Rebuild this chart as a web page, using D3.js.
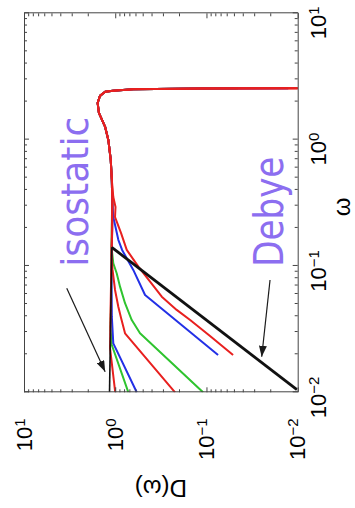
<!DOCTYPE html>
<html>
<head>
<meta charset="utf-8">
<script src="https://cdn.jsdelivr.net/npm/d3@7"></script>
<style>
  html, body { margin: 0; padding: 0; background: #fff; }
  svg { display: block; }
</style>
</head>
<body>
<svg id="chart" width="355" height="508"></svg>
<script>
// Vibrational density of states D(ω) on log-log axes.
// The whole figure is laid out as an ordinary plot and then turned a
// quarter turn counter-clockwise (ω runs upward, D runs leftward).

// ---- tick values ----
const omegaTicks = [1e-2, 1e-1, 1e0, 1e1];
const dosTicks = [1e-2, 1e-1, 1e0, 1e1];

// ---- high-frequency branch shared by every run (ω, D) ----
const plateauOmega = [0.480, 0.690, 0.995, 1.26, 1.63, 1.95, 2.22, 2.39, 2.44, 2.51, 2.535];
const plateauDos   = [1.09, 1.12, 1.19, 1.29, 1.51, 1.56, 1.47, 1.29, 1.06, 0.638, 0.117];
const cutoffOmega = 2.553;

// ---- low-frequency branches, one per run ----
const redAOmega = [0.01, 0.0224, 0.0373, 0.0775, 0.161, 0.333];
const redADos   = [1.00, 1.14, 1.13, 1.11, 1.09, 1.08];

const greenAOmega = [0.01, 0.0237, 0.0323, 0.0538, 0.134, 0.333];
const greenADos   = [0.718, 1.09, 1.13, 1.11, 1.10, 1.08];

const blueAOmega = [0.01, 0.0244, 0.0397, 0.093, 0.193, 0.333];
const blueADos   = [0.581, 1.05, 1.09, 1.10, 1.08, 1.08];

const redBOmega = [0.01, 0.0293, 0.0387, 0.0476, 0.0646, 0.093, 0.122, 0.193, 0.333];
const redBDos   = [0.221, 0.781, 0.863, 0.925, 1.005, 1.07, 1.10, 1.08, 1.07];

const greenBOmega = [0.01, 0.0293, 0.0373, 0.0507, 0.0686, 0.0875, 0.105, 0.134, 0.231, 0.333];
const greenBDos   = [0.109, 0.535, 0.659, 0.781, 0.886, 0.964, 1.05, 1.09, 1.08, 1.075];

const blueCOmega = [0.0197, 0.0589, 0.0930, 0.134, 0.161, 0.244, 0.333];
const blueCDos   = [0.0746, 0.471, 0.634, 0.841, 0.925, 1.05, 1.08];

const redCOmega = [0.0197, 0.0279, 0.0373, 0.0449, 0.0571, 0.0752, 0.0987, 0.134, 0.182, 0.244, 0.293, 0.351];
const redCDos   = [0.0511, 0.0914, 0.151, 0.212, 0.309, 0.415, 0.558, 0.748, 0.863, 1.005, 0.993, 1.05];

// last value of D reached at the cutoff for each colour
const cutoffDosGreen = 0.045;
const cutoffDosBlue = 0.0127;
const cutoffDosRed = 0.0095;

// ---- reference lines ----
const isostaticOmega = [0.01, 0.1406];
const isostaticDos   = [1.155, 1.09];
const debyeOmega = [0.1406, 0.0105];
const debyeDos   = [1.09, 0.0102];

// ---- annotations ----
const labelIsostatic = "isostatic";
const labelDebye = "Debye";
const isostaticArrowOmega = [0.0666, 0.01456];
const isostaticArrowDos   = [3.40, 1.29];
const debyeArrowOmega = [0.0775, 0.0191];
const debyeArrowDos   = [0.0201, 0.0248];

// ---- colours ----
const RED = "#e8201f", GREEN = "#2fc42f", BLUE = "#2330e6", PURPLE = "#8c6ef0";

// ---- layout (plot box before turning) ----
const W = 379, H = 273.7;
const x = d3.scaleLog().domain([1e-2, 1e1]).range([0, W]);
const y = d3.scaleLog().domain([1e-2, 1e1]).range([H, 0]);

const svg = d3.select("#chart");
const defs = svg.append("defs");
defs.append("clipPath").attr("id", "plotClip")
  .append("rect").attr("x", 0).attr("y", 0).attr("width", W).attr("height", H);
defs.append("marker").attr("id", "arrowHead")
  .attr("viewBox", "0 0 11 8").attr("refX", 11).attr("refY", 4)
  .attr("markerWidth", 11).attr("markerHeight", 8)
  .attr("markerUnits", "userSpaceOnUse").attr("orient", "auto")
  .append("path").attr("d", "M0,0 L11,4 L0,8 Z").attr("fill", "#1a1a1a");

const g = svg.append("g").attr("transform", "translate(24,392.3) rotate(-90)");

function zip(a, b) { return a.map((v, i) => [v, b[i]]); }

const series = [
  { color: GREEN, pts: zip(greenAOmega.concat(plateauOmega, [cutoffOmega]), greenADos.concat(plateauDos, [cutoffDosGreen])) },
  { color: GREEN, pts: zip(greenBOmega.concat(plateauOmega, [cutoffOmega]), greenBDos.concat(plateauDos, [cutoffDosGreen])) },
  { color: BLUE,  pts: zip(blueAOmega.concat(plateauOmega, [cutoffOmega]),  blueADos.concat(plateauDos, [cutoffDosBlue])) },
  { color: BLUE,  pts: zip(blueCOmega.concat(plateauOmega, [cutoffOmega]),  blueCDos.concat(plateauDos, [cutoffDosBlue])) },
  { color: RED,   pts: zip(redAOmega.concat(plateauOmega, [cutoffOmega]),   redADos.concat(plateauDos, [cutoffDosRed])) },
  { color: RED,   pts: zip(redBOmega.concat(plateauOmega, [cutoffOmega]),   redBDos.concat(plateauDos, [cutoffDosRed])) },
  { color: RED,   pts: zip(redCOmega.concat(plateauOmega, [cutoffOmega]),   redCDos.concat(plateauDos, [cutoffDosRed])) }
];

const line = d3.line().x(d => x(d[0])).y(d => y(d[1]));

const plot = g.append("g").attr("clip-path", "url(#plotClip)");
plot.selectAll("path.run").data(series).enter().append("path")
  .attr("class", "run")
  .attr("d", d => line(d.pts))
  .attr("fill", "none")
  .attr("stroke", d => d.color)
  .attr("stroke-width", 2)
  .attr("stroke-linejoin", "round");

plot.append("path").attr("d", line(zip(isostaticOmega, isostaticDos)))
  .attr("fill", "none").attr("stroke", "#111").attr("stroke-width", 1.6);
plot.append("path").attr("d", line(zip(debyeOmega, debyeDos)))
  .attr("fill", "none").attr("stroke", "#111").attr("stroke-width", 2.8);

// ---- axes: ticks point inward on all four sides ----
const AX = "#444";
const minorOmega = x.ticks().filter(v => !omegaTicks.some(t => Math.abs(t - v) / t < 1e-6));
const minorDos = y.ticks().filter(v => !dosTicks.some(t => Math.abs(t - v) / t < 1e-6));

function styleAxis(sel) {
  sel.selectAll("path.domain").attr("stroke", AX).attr("stroke-width", 1);
  sel.selectAll(".tick line").attr("stroke", AX).attr("stroke-width", 1);
}

function powerLabel(sel, leadShift) {
  sel.selectAll(".tick text").each(function(d) {
    const t = d3.select(this);
    const e = Math.round(Math.log10(d));
    t.text(null);
    t.append("tspan").attr("dx", leadShift).text("10");
    t.append("tspan").attr("font-size", 15).attr("dy", "-0.45em")
      .text(e < 0 ? "\u2212" + Math.abs(e) : String(e));
  });
}

// ω axis (appears on the right after turning)
const axB = g.append("g").attr("transform", `translate(0,${H})`)
  .call(d3.axisBottom(x).tickValues(omegaTicks).tickSizeInner(-5).tickSizeOuter(0).tickPadding(12.5));
axB.selectAll(".tick text").attr("font-family", "Liberation Sans, Arial, sans-serif")
  .attr("font-size", 22).attr("fill", "#000").attr("text-anchor", "start");
powerLabel(axB, "-1.2em");
styleAxis(axB);
g.append("g").attr("transform", `translate(0,${H})`)
  .call(d3.axisBottom(x).tickValues(minorOmega).tickSizeInner(-3).tickSizeOuter(0).tickFormat(""))
  .call(s => s.select(".domain").remove()).call(styleAxis);

const axT = g.append("g")
  .call(d3.axisTop(x).tickValues(omegaTicks).tickSizeInner(-5).tickSizeOuter(0).tickFormat(""));
styleAxis(axT);
g.append("g")
  .call(d3.axisTop(x).tickValues(minorOmega).tickSizeInner(-3).tickSizeOuter(0).tickFormat(""))
  .call(s => s.select(".domain").remove()).call(styleAxis);

// D axis (appears at the bottom after turning)
const axL = g.append("g")
  .call(d3.axisLeft(y).tickValues(dosTicks).tickSizeInner(-5).tickSizeOuter(0).tickPadding(26));
axL.selectAll(".tick text").attr("font-family", "Liberation Sans, Arial, sans-serif")
  .attr("font-size", 22).attr("fill", "#000");
powerLabel(axL, 0);
styleAxis(axL);
g.append("g")
  .call(d3.axisLeft(y).tickValues(minorDos).tickSizeInner(-3).tickSizeOuter(0).tickFormat(""))
  .call(s => s.select(".domain").remove()).call(styleAxis);

const axR = g.append("g").attr("transform", `translate(${W},0)`)
  .call(d3.axisRight(y).tickValues(dosTicks).tickSizeInner(-5).tickSizeOuter(0).tickFormat(""));
styleAxis(axR);
g.append("g").attr("transform", `translate(${W},0)`)
  .call(d3.axisRight(y).tickValues(minorDos).tickSizeInner(-3).tickSizeOuter(0).tickFormat(""))
  .call(s => s.select(".domain").remove()).call(styleAxis);

// axis titles
g.append("text").attr("x", W / 2 - 4).attr("y", H + 52)
  .attr("text-anchor", "middle")
  .attr("font-family", "Liberation Sans, Arial, sans-serif").attr("font-size", 24)
  .text("\u03c9");
g.append("text").attr("transform", `translate(-88,${H / 2}) rotate(-90)`)
  .attr("text-anchor", "middle")
  .attr("font-family", "Liberation Sans, Arial, sans-serif").attr("font-size", 24)
  .text("D(\u03c9)");

// ---- annotations ----
g.append("text").attr("x", x(0.0987)).attr("y", y(2.01))
  .attr("font-family", "DejaVu Sans, sans-serif").attr("font-size", 38)
  .attr("fill", PURPLE).attr("textLength", 150).attr("lengthAdjust", "spacingAndGlyphs")
  .text(labelIsostatic);
g.append("text").attr("x", x(0.0987)).attr("y", y(0.01445))
  .attr("font-family", "DejaVu Sans, sans-serif").attr("font-size", 41)
  .attr("fill", PURPLE).attr("textLength", 110).attr("lengthAdjust", "spacingAndGlyphs")
  .text(labelDebye);

g.append("path").attr("d", line(zip(isostaticArrowOmega, isostaticArrowDos)))
  .attr("fill", "none").attr("stroke", "#1a1a1a").attr("stroke-width", 1.2)
  .attr("marker-end", "url(#arrowHead)");
g.append("path").attr("d", line(zip(debyeArrowOmega, debyeArrowDos)))
  .attr("fill", "none").attr("stroke", "#1a1a1a").attr("stroke-width", 1.2)
  .attr("marker-end", "url(#arrowHead)");
</script>
</body>
</html>
